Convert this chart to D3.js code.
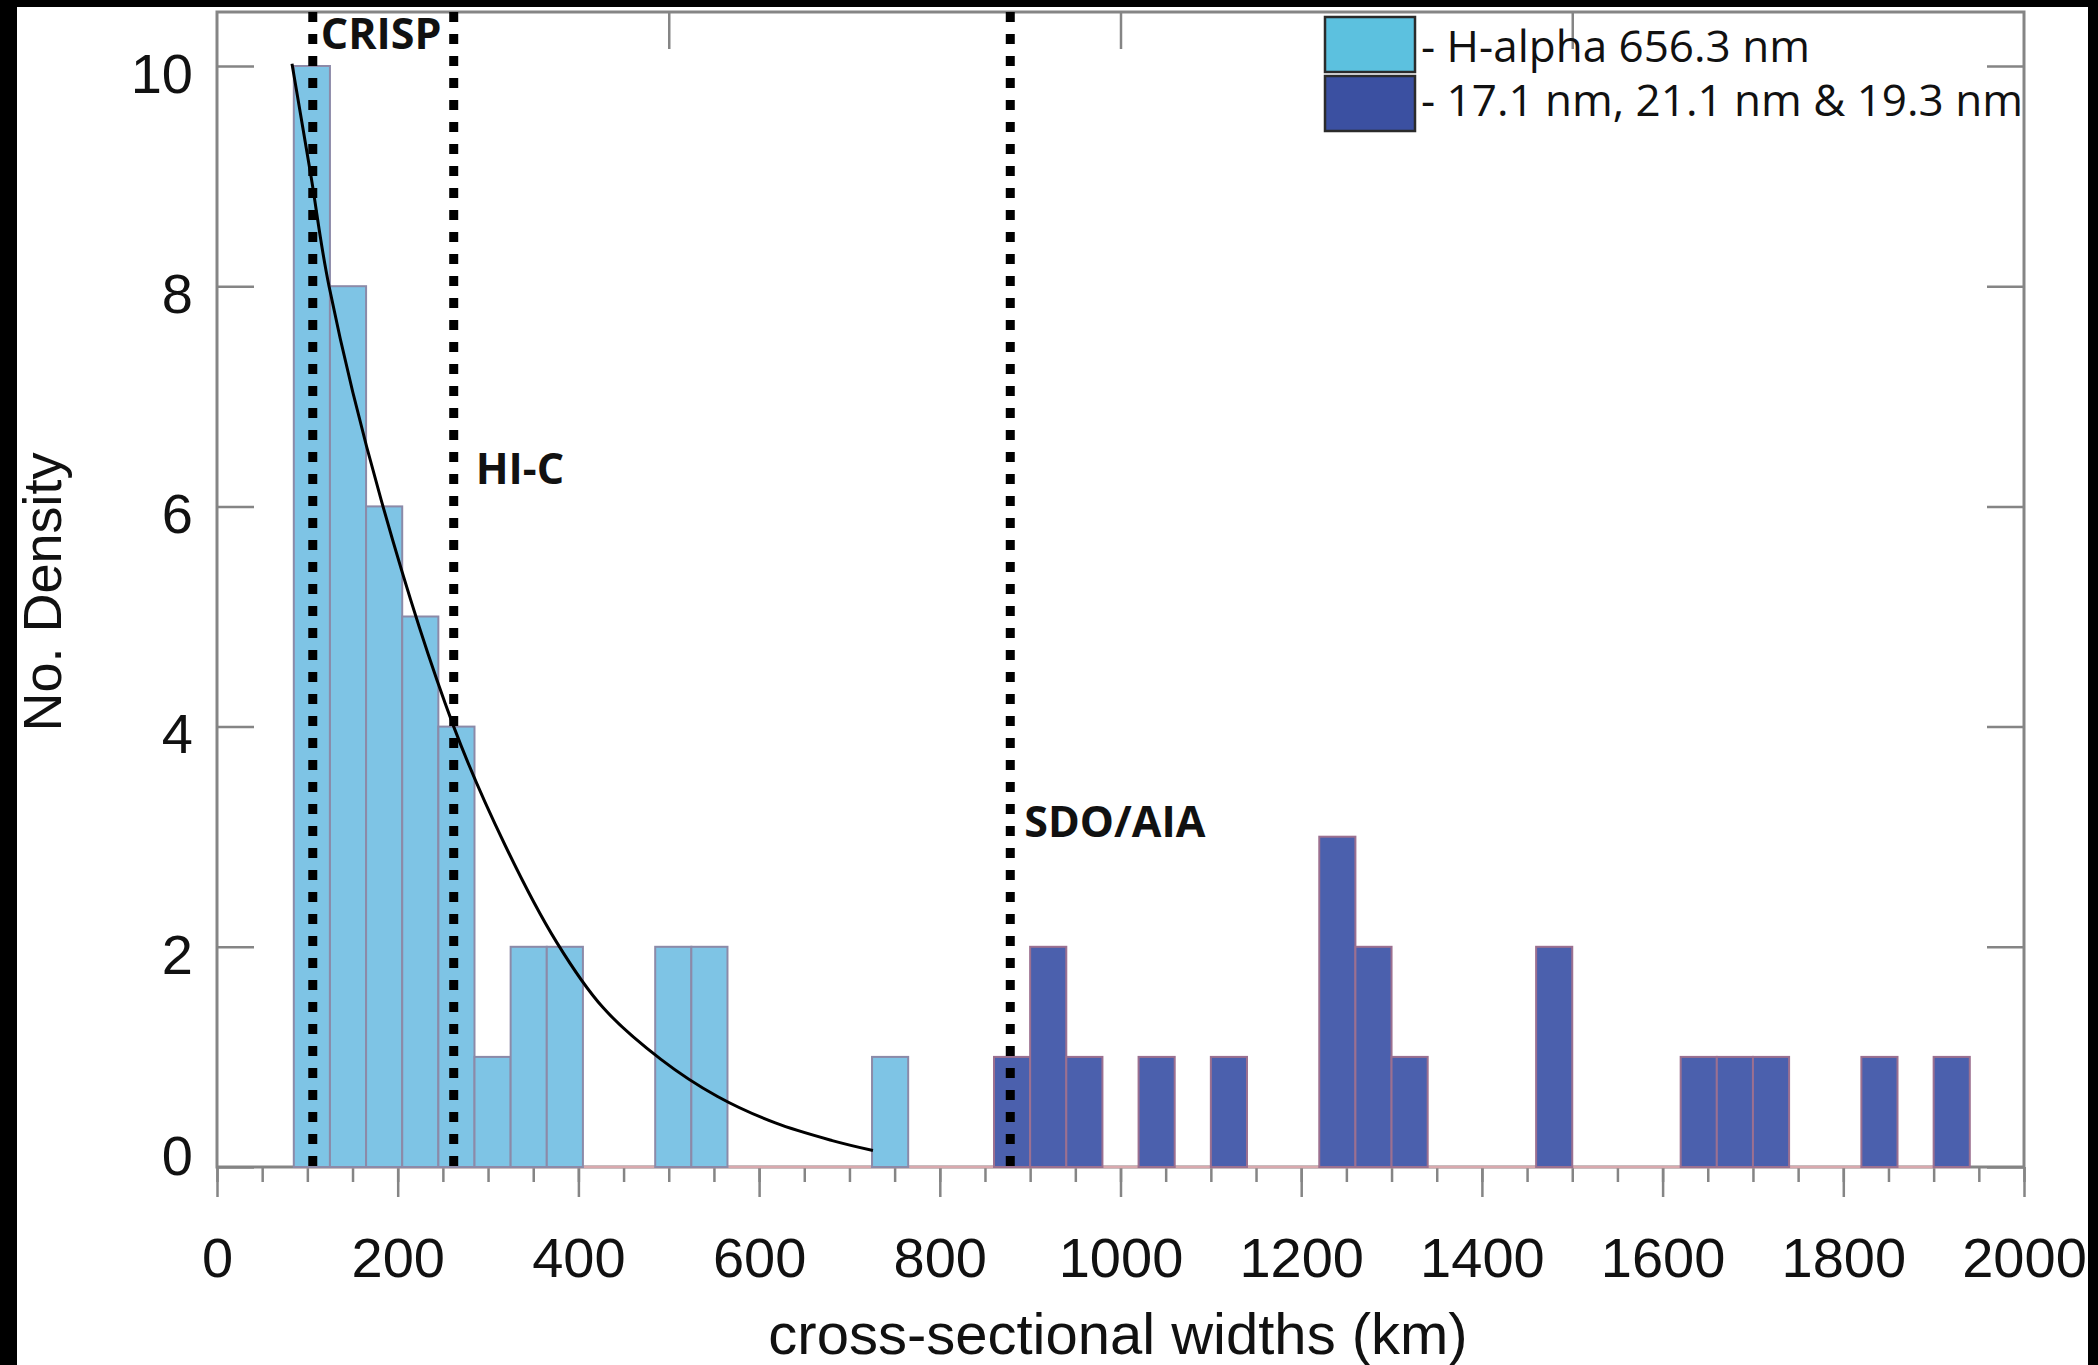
<!DOCTYPE html>
<html>
<head>
<meta charset="utf-8">
<script src="https://cdn.jsdelivr.net/npm/d3@7"></script>
<style>
  html, body { margin: 0; padding: 0; background: #000; }
  svg { display: block; }
</style>
</head>
<body>
<svg id="chart" width="2098" height="1365"></svg>
<script>
// ---- Histogram data: bin left edges (km) and counts ----
const binWidth = 40;
const hAlphaBinStarts = [85, 125, 165, 205, 245, 285, 325, 365, 485, 525, 725];
const hAlphaCounts    = [10, 8, 6, 5, 4, 1, 2, 2, 2, 2, 1];
const euvBinStarts = [860, 900, 940, 1020, 1100, 1220, 1260, 1300, 1460, 1620, 1660, 1700, 1820, 1900];
const euvCounts    = [1, 2, 1, 1, 1, 3, 2, 1, 2, 1, 1, 1, 1, 1];

// ---- Fitted distribution over the H-alpha widths ----
const fitWidths  = [83, 104, 124, 182, 262, 319, 376, 427, 491, 554, 618, 681, 726];
const fitDensity = [10.02, 9.0, 8.0, 6.05, 4.0, 2.92, 2.04, 1.45, 0.98, 0.64, 0.40, 0.24, 0.15];

// ---- Instrument resolution limits (km) ----
const instrumentNames  = ["CRISP", "HI-C", "SDO/AIA"];
const instrumentLimits = [106, 262, 878];

// ---- Axis ticks and legend ----
const xTickLabels = [0, 200, 400, 600, 800, 1000, 1200, 1400, 1600, 1800, 2000];
const xMinorTicks = [0, 50, 100, 150, 200, 250, 300, 350, 400, 450, 500, 550, 600, 650, 700, 750, 800, 850, 900, 950,
                     1000, 1050, 1100, 1150, 1200, 1250, 1300, 1350, 1400, 1450, 1500, 1550, 1600, 1650, 1700, 1750,
                     1800, 1850, 1900, 1950, 2000];
const xTopTicks = [500, 1000, 1500];
const yTickLabels = [0, 2, 4, 6, 8, 10];
const legendLabels = ["- H-alpha 656.3 nm", "- 17.1 nm, 21.1 nm & 19.3 nm"];
const xTitle = "cross-sectional widths (km)";
const yTitle = "No. Density";

// ---- Layout ----
const svg = d3.select("#chart");
const plot = { left: 217, right: 2024, top: 12, bottom: 1167 };
const x = d3.scaleLinear().domain([0, 2000]).range([plot.left, plot.right]);
const y = d3.scaleLinear().domain([0, 10]).range([plot.bottom, 66]);

const axisGray = "#858585";
const labelFont = "'Liberation Sans', Arial, Helvetica, sans-serif";
const annotFont = "'Open Sans', 'Noto Sans', sans-serif";

// white panel
svg.append("rect").attr("x", 17).attr("y", 7).attr("width", 2088 - 17).attr("height", 1365 - 7).attr("fill", "#fff");

// frame
svg.append("rect")
  .attr("x", plot.left).attr("y", plot.top)
  .attr("width", plot.right - plot.left).attr("height", plot.bottom - plot.top)
  .attr("fill", "none").attr("stroke", axisGray).attr("stroke-width", 3);

function styleAxis(g) {
  g.select(".domain").remove();
  g.selectAll(".tick line").attr("stroke", axisGray).attr("stroke-width", 2.5);
}

// bottom axis: minor ticks, then major ticks with labels
svg.append("g").attr("transform", `translate(0,${plot.bottom})`)
  .call(d3.axisBottom(x).tickValues(xMinorTicks).tickSize(15).tickFormat(""))
  .call(styleAxis);
const gxMajor = svg.append("g").attr("transform", `translate(0,${plot.bottom})`)
  .call(d3.axisBottom(x).tickValues(xTickLabels).tickSize(30).tickPadding(40).tickFormat(d3.format("d")))
  .call(styleAxis);
gxMajor.selectAll("text").attr("font-family", labelFont).attr("font-size", 56).attr("fill", "#111");

// left axis with inward ticks
const gy = svg.append("g").attr("transform", `translate(${plot.left},0)`)
  .call(d3.axisLeft(y).tickValues(yTickLabels).tickSize(-37).tickPadding(24).tickFormat(d3.format("d")))
  .call(styleAxis);
gy.selectAll("text")
  .attr("font-family", labelFont).attr("font-size", 56).attr("fill", "#111")
  .attr("dy", d => d === 0 ? "0.13em" : "0.47em");

// right and top inward ticks
svg.append("g").attr("transform", `translate(${plot.right},0)`)
  .call(d3.axisRight(y).tickValues(yTickLabels).tickSize(-37).tickFormat(""))
  .call(styleAxis);
svg.append("g").attr("transform", `translate(0,${plot.top})`)
  .call(d3.axisTop(x).tickValues(xTopTicks).tickSize(-37).tickFormat(""))
  .call(styleAxis);

// zero-count baseline of the histogram
svg.append("line")
  .attr("x1", x(hAlphaBinStarts[0])).attr("x2", x(euvBinStarts[euvBinStarts.length - 1] + binWidth))
  .attr("y1", y(0)).attr("y2", y(0))
  .attr("stroke", "#d9a9ae").attr("stroke-width", 2.5);

// bars
function drawBars(starts, counts, fill, edge) {
  svg.append("g").selectAll("rect")
    .data(starts.map((s, i) => ({ s, c: counts[i] })))
    .join("rect")
    .attr("x", d => x(d.s))
    .attr("width", d => x(d.s + binWidth) - x(d.s))
    .attr("y", d => y(d.c))
    .attr("height", d => y(0) - y(d.c))
    .attr("fill", fill)
    .attr("stroke", edge)
    .attr("stroke-width", 2);
}
drawBars(hAlphaBinStarts, hAlphaCounts, "#7ec4e5", "#8c8aa8");
drawBars(euvBinStarts, euvCounts, "#4b60ad", "#9c7090");

// fitted curve
const line = d3.line().x((d, i) => x(fitWidths[i])).y(d => y(d)).curve(d3.curveCatmullRom.alpha(0.5));
svg.append("path")
  .attr("d", line(fitDensity))
  .attr("fill", "none").attr("stroke", "#000").attr("stroke-width", 3);

// instrument resolution lines
svg.append("g").selectAll("line")
  .data(instrumentLimits)
  .join("line")
  .attr("x1", d => x(d)).attr("x2", d => x(d))
  .attr("y1", plot.top).attr("y2", plot.bottom)
  .attr("stroke", "#000").attr("stroke-width", 9)
  .attr("stroke-dasharray", "10,12");

// instrument labels: horizontal offset from line (px), label height in density units
const labelPlacement = [ { dx: 8, v: 10.15 }, { dx: 22, v: 6.2 }, { dx: 14, v: 3.0 } ];
svg.append("g").selectAll("text")
  .data(instrumentNames)
  .join("text")
  .attr("x", (d, i) => x(instrumentLimits[i]) + labelPlacement[i].dx)
  .attr("y", (d, i) => y(labelPlacement[i].v))
  .attr("font-family", annotFont).attr("font-weight", 700).attr("font-size", 43)
  .attr("fill", "#111")
  .text(d => d);

// legend
const legendColors = ["#5cc1df", "#3b50a1"];
const lg = svg.append("g");
legendLabels.forEach((lab, i) => {
  lg.append("rect")
    .attr("x", 1325).attr("y", 17 + i * 59).attr("width", 90).attr("height", 55)
    .attr("fill", legendColors[i]).attr("stroke", "#2b2b2b").attr("stroke-width", 2.5);
  lg.append("text")
    .attr("x", 1421).attr("y", 62 + i * 54)
    .attr("font-family", annotFont).attr("font-size", 44).attr("fill", "#111")
    .text(lab);
});

// axis titles
svg.append("text")
  .attr("x", 1118).attr("y", 1354)
  .attr("text-anchor", "middle")
  .attr("font-family", labelFont).attr("font-size", 58).attr("fill", "#111")
  .text(xTitle);
svg.append("text")
  .attr("transform", "translate(61,592) rotate(-90)")
  .attr("text-anchor", "middle")
  .attr("font-family", labelFont).attr("font-size", 54).attr("fill", "#111")
  .text(yTitle);
</script>
</body>
</html>
